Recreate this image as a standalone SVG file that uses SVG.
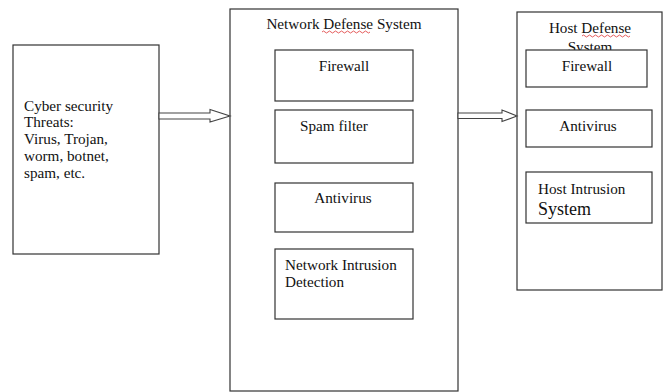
<svg xmlns="http://www.w3.org/2000/svg" width="667" height="392" viewBox="0 0 667 392">
<style>
.box{fill:#fff;stroke:#333;stroke-width:1.2}
.t{font-family:'Liberation Serif','DejaVu Serif',serif;font-size:15.2px;fill:#111}
.c{text-anchor:middle}
.arr{fill:#fff;stroke:#444;stroke-width:1.1;stroke-linejoin:miter}
.wave{fill:none;stroke:#d33;stroke-width:0.8}
</style>
<rect width="667" height="392" fill="#fff"/>
<g id="threats">
<rect class="box" x="13" y="45" width="146" height="209"/>
<text class="t" x="24" y="111">Cyber security</text>
<text class="t" x="24" y="127">Threats:</text>
<text class="t" x="24" y="144">Virus,  Trojan,</text>
<text class="t" x="24" y="161">worm, botnet,</text>
<text class="t" x="24" y="178">spam, etc.</text>
</g>
<g id="network-defense">
<rect class="box" x="230" y="9" width="228" height="382"/>
<text class="t c" x="344" y="29">Network Defense System</text>
<path class="wave" d="M322 32 q1.5 -2 3 0 t3 0 t3 0 t3 0 t3 0 t3 0 t3 0 t3 0 t3 0 t3 0 t3 0 t3 0 t3 0 t3 0 t3 0 t3 0"/>
</g>
<g id="host-defense">
<rect class="box" x="517" y="12" width="145" height="278"/>
<text class="t c" x="590" y="33">Host Defense</text>
<path class="wave" d="M582 36 q1.5 -2 3 0 t3 0 t3 0 t3 0 t3 0 t3 0 t3 0 t3 0 t3 0 t3 0 t3 0 t3 0 t3 0 t3 0 t3 0 t3 0"/>
<text class="t c" x="590" y="52">System</text>
</g>
<g id="nd-firewall">
<rect class="box" x="275" y="50" width="138" height="51"/>
<text class="t c" x="344" y="71">Firewall</text>
</g>
<g id="nd-spam">
<rect class="box" x="275" y="110" width="138" height="53"/>
<text class="t" x="300" y="131">Spam filter</text>
</g>
<g id="nd-antivirus">
<rect class="box" x="275" y="183" width="138" height="49"/>
<text class="t c" x="343" y="203">Antivirus</text>
</g>
<g id="nd-intrusion">
<rect class="box" x="275" y="249" width="138" height="70"/>
<text class="t" x="285" y="270">Network Intrusion</text>
<text class="t" x="285" y="287">Detection</text>
</g>
<g id="hd-firewall">
<rect class="box" x="526" y="50" width="121" height="37"/>
<text class="t c" x="587" y="71">Firewall</text>
</g>
<g id="hd-antivirus">
<rect class="box" x="526" y="110" width="126" height="37"/>
<text class="t c" x="588" y="131">Antivirus</text>
</g>
<g id="hd-intrusion">
<rect class="box" x="526" y="172" width="126" height="51"/>
<text class="t" x="538" y="194">Host Intrusion</text>
<text class="t" x="538" y="215" style="font-size:18px">System</text>
</g>
<g id="connectors">
<polygon class="arr" points="159,113 210,113 210,109.5 230,116 210,122 210,119 159,119"/>
<polygon class="arr" points="458,113 502,113 502,110 517,116 502,121.5 502,118.5 458,118.5"/>
</g>
</svg>
